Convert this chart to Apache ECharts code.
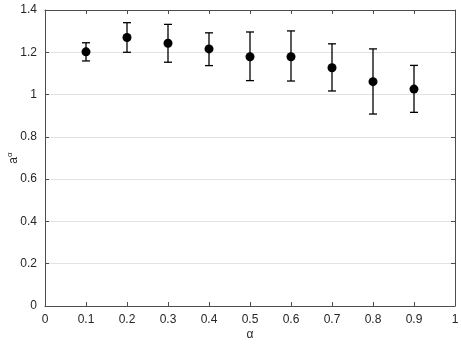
<!DOCTYPE html>
<html>
<head>
<meta charset="utf-8">
<script src="https://cdn.jsdelivr.net/npm/echarts@6/dist/echarts.min.js"></script>
<style>
  html, body { margin: 0; padding: 0; background: #fff; }
  #chart { width: 461px; height: 348px; }
</style>
</head>
<body>
<div id="chart"></div>
<script>
// values
let alphaVals = [0.1, 0.2, 0.3, 0.4, 0.5, 0.6, 0.7, 0.8, 0.9];
let meanVals  = [1.202, 1.270, 1.243, 1.216, 1.179, 1.179, 1.127, 1.061, 1.026];
let upperVals = [1.245, 1.340, 1.332, 1.292, 1.296, 1.301, 1.240, 1.216, 1.138];
let lowerVals = [1.159, 1.200, 1.153, 1.137, 1.066, 1.064, 1.017, 0.908, 0.916];
let xTicks = [0, 0.1, 0.2, 0.3, 0.4, 0.5, 0.6, 0.7, 0.8, 0.9, 1];
let yTicks = [0, 0.2, 0.4, 0.6, 0.8, 1, 1.2, 1.4];

let labelColor = '#262626';
let axisColor = '#4d4d4d';
let fontName = 'Liberation Sans, Arial, sans-serif';

let pointData = [];
let barData = [];
for (let i = 0; i < alphaVals.length; i++) {
    pointData.push([alphaVals[i], meanVals[i]]);
    barData.push([alphaVals[i], lowerVals[i], upperVals[i]]);
}

function fmt(v) {
    return String(Math.round(v * 10) / 10);
}

// error bars sit on the top/right axes (same scale) so the box gets drawn
let errorSeries = {
    type: 'custom',
    xAxisIndex: 1,
    yAxisIndex: 1,
    data: barData,
    renderItem: function (params, api) {
        let lo = api.coord([api.value(0), api.value(1)]);
        let hi = api.coord([api.value(0), api.value(2)]);
        let half = 4;
        let style = { stroke: '#000', lineWidth: 1.3 };
        return {
            type: 'group',
            children: [
                { type: 'line', shape: { x1: hi[0], y1: hi[1], x2: lo[0], y2: lo[1] }, style: style },
                { type: 'line', shape: { x1: hi[0] - half, y1: hi[1], x2: hi[0] + half, y2: hi[1] }, style: style },
                { type: 'line', shape: { x1: lo[0] - half, y1: lo[1], x2: lo[0] + half, y2: lo[1] }, style: style }
            ]
        };
    },
    z: 3
};

let pointSeries = {
    type: 'scatter',
    xAxisIndex: 0,
    yAxisIndex: 0,
    symbol: 'circle',
    symbolSize: 9,
    itemStyle: { color: '#000', opacity: 1 },
    data: pointData,
    z: 4
};

let chart = echarts.init(document.getElementById('chart'));
chart.setOption({
    animation: false,
    backgroundColor: '#fff',
    grid: { left: 45, right: 6, top: 10, bottom: 42, outerBoundsMode: 'none', containLabel: false },
    xAxis: [{
        type: 'value',
        min: xTicks[0],
        max: xTicks[xTicks.length - 1],
        interval: 0.1,
        name: 'α',
        nameLocation: 'middle',
        nameGap: 23,
        nameMoveOverlap: false,
        nameTextStyle: { color: labelColor, fontSize: 12, fontFamily: fontName },
        axisLine: { show: true, onZero: false, lineStyle: { color: axisColor, width: 1 } },
        axisTick: { show: true, inside: true, length: 4, lineStyle: { color: axisColor } },
        axisLabel: { color: labelColor, fontSize: 12, fontFamily: fontName, margin: 8, formatter: fmt },
        splitLine: { show: false }
    }, {
        type: 'value',
        position: 'top',
        min: xTicks[0],
        max: xTicks[xTicks.length - 1],
        interval: 0.1,
        axisLine: { show: true, onZero: false, lineStyle: { color: axisColor, width: 1 } },
        axisTick: { show: true, inside: true, length: 4, lineStyle: { color: axisColor } },
        axisLabel: { show: false },
        splitLine: { show: false }
    }],
    yAxis: [{
        type: 'value',
        min: yTicks[0],
        max: yTicks[yTicks.length - 1],
        interval: 0.2,
        name: '{a|a}{s|α}',
        nameLocation: 'middle',
        nameRotate: 90,
        nameGap: 23,
        nameMoveOverlap: false,
        nameTextStyle: {
            rich: {
                a: { color: labelColor, fontSize: 12, fontFamily: fontName },
                s: { color: labelColor, fontSize: 8, fontFamily: fontName, padding: [0, 0, 8, 0] }
            }
        },
        axisLine: { show: true, onZero: false, lineStyle: { color: axisColor, width: 1 } },
        axisTick: { show: true, inside: true, length: 4, lineStyle: { color: axisColor } },
        axisLabel: { color: labelColor, fontSize: 12, fontFamily: fontName, margin: 8, formatter: fmt },
        splitLine: { show: true, lineStyle: { color: '#e3e3e3', width: 1 } }
    }, {
        type: 'value',
        position: 'right',
        min: yTicks[0],
        max: yTicks[yTicks.length - 1],
        interval: 0.2,
        axisLine: { show: true, onZero: false, lineStyle: { color: axisColor, width: 1 } },
        axisTick: { show: true, inside: true, length: 4, lineStyle: { color: axisColor } },
        axisLabel: { show: false },
        splitLine: { show: false }
    }],
    series: [errorSeries, pointSeries]
});
</script>
</body>
</html>
